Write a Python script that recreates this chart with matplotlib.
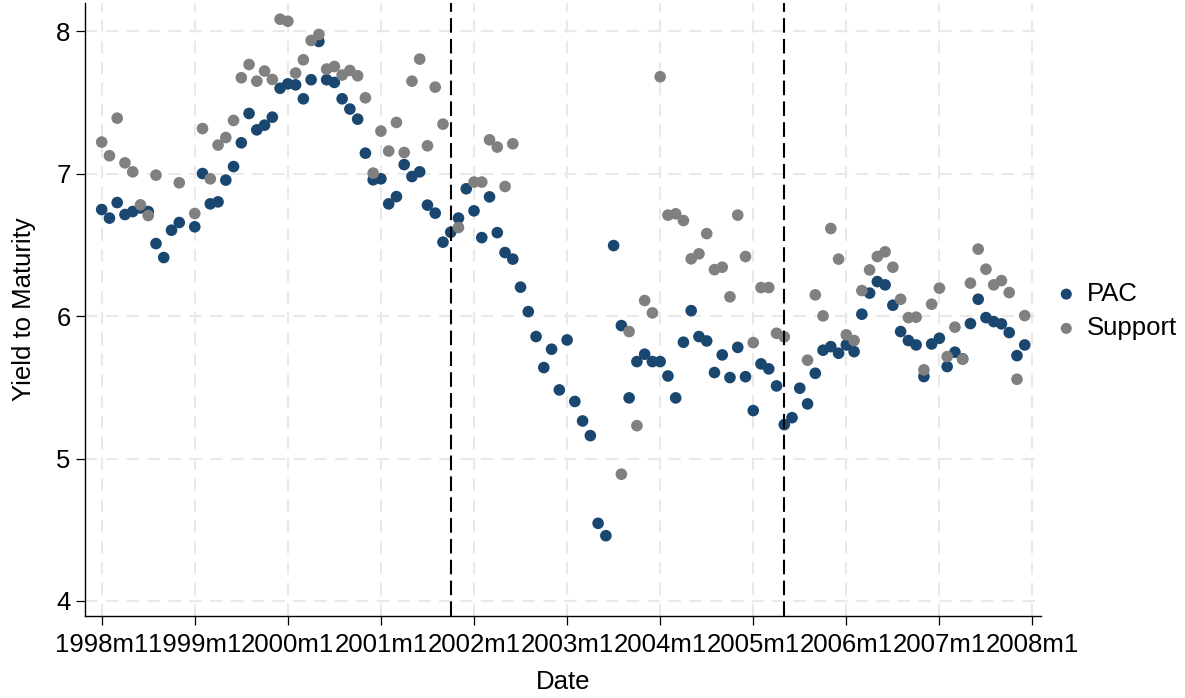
import numpy as np
import matplotlib
matplotlib.use("Agg")
import matplotlib.pyplot as plt

plt.rcParams["font.family"] = ["Liberation Sans", "DejaVu Sans"]

nan = np.nan

# monthly observations, 1998m1 .. 2007m12
start_year = 1998
n_months = 120

pac = [
    6.749, 6.689, 6.798, 6.714, 6.735, 6.760, 6.735, 6.510, 6.412, 6.604, 6.658, nan,
    6.628, 7.002, 6.789, 6.803, 6.956, 7.051, 7.218, 7.424, 7.309, 7.342, 7.398, 7.601,
    7.632, 7.625, 7.527, 7.661, 7.930, 7.661, 7.642, 7.527, 7.455, 7.384, 7.145, 6.958,
    6.965, 6.789, 6.840, 7.065, 6.981, 7.014, 6.780, 6.724, 6.520, 6.590, 6.689, 6.895,
    6.740, 6.552, 6.838, 6.587, 6.447, 6.401, 6.204, 6.032, 5.857, 5.639, 5.768, 5.482,
    5.833, 5.401, 5.264, 5.161, 4.545, 4.458, 6.496, 5.934, 5.426, 5.681, 5.733, 5.681,
    5.681, 5.580, 5.426, 5.817, 6.039, 5.857, 5.826, 5.604, 5.728, 5.569, 5.781, 5.575,
    5.337, 5.665, 5.630, 5.510, 5.238, 5.287, 5.494, 5.384, 5.599, 5.761, 5.786, 5.740,
    5.798, 5.751, 6.014, 6.162, 6.243, 6.220, 6.077, 5.892, 5.829, 5.798, 5.576, 5.805,
    5.845, 5.646, 5.747, 5.700, 5.948, 6.119, 5.990, 5.962, 5.946, 5.885, 5.723, 5.798,
]

support = [
    7.223, 7.127, 7.391, 7.077, 7.014, 6.782, 6.707, 6.991, nan, nan, 6.937, nan,
    6.721, 7.318, 6.965, 7.202, 7.255, 7.375, 7.675, 7.768, 7.651, 7.722, 7.663, 8.086,
    8.072, 7.708, 7.801, 7.937, 7.979, 7.736, 7.754, 7.694, 7.726, 7.689, 7.534, 7.005,
    7.300, 7.160, 7.361, 7.150, 7.651, 7.806, 7.197, 7.609, 7.349, nan, 6.623, nan,
    6.942, 6.942, 7.239, 7.188, 6.911, 7.211, nan, nan, nan, nan, nan, nan,
    nan, nan, nan, nan, nan, nan, nan, 4.890, 5.892, 5.231, 6.110, 6.023,
    7.682, 6.710, 6.719, 6.672, 6.403, 6.438, 6.580, 6.327, 6.344, 6.136, 6.710, 6.419,
    5.814, 6.201, 6.201, 5.880, 5.855, nan, nan, 5.691, 6.150, 6.002, 6.616, 6.401,
    5.869, 5.829, 6.180, 6.325, 6.419, 6.452, 6.344, 6.119, 5.990, 5.993, 5.623, 6.084,
    6.197, 5.716, 5.923, 5.698, 6.232, 6.471, 6.330, 6.220, 6.250, 6.166, 5.557, 6.004,
]

# event months marked with dashed lines (2001m10, 2005m5)
event_months = [45, 88]

tick_months = list(range(0, n_months + 1, 12))
tick_labels = [f"{start_year + m // 12}m1" for m in tick_months]
y_ticks = [4, 5, 6, 7, 8]

navy = "#1a476f"
grey = "#808080"
fs = 18.5

months = np.arange(n_months)

fig = plt.figure(figsize=(11.85, 6.98), dpi=100)
ax = fig.add_axes([0.072, 0.1175, 0.8065, 0.8782])

for m in tick_months:
    ax.axvline(m, color="#e9e9e9", lw=1.5, dashes=(6, 4), zorder=0)
for v in y_ticks:
    ax.axhline(v, color="#e9e9e9", lw=1.5, dashes=(6, 4), zorder=0)

ax.scatter(months, pac, s=70, color=navy, edgecolors="none", label="PAC", zorder=3)
ax.scatter(months, support, s=70, color=grey, edgecolors="none", label="Support", zorder=4)

for m in event_months:
    ax.axvline(m, color="black", lw=1.5, dashes=(7, 3), zorder=5)

ax.set_xlim(-2.11, 121.1)
ax.set_ylim(3.894, 8.2)
ax.set_xticks(tick_months)
ax.set_xticklabels(tick_labels)
ax.set_yticks(y_ticks)

ax.spines["top"].set_visible(False)
ax.spines["right"].set_visible(False)
for side in ("left", "bottom"):
    ax.spines[side].set_linewidth(1.0)
ax.tick_params(axis="both", length=6.5, width=0.9, labelsize=fs)
ax.tick_params(axis="x", pad=6)
ax.tick_params(axis="y", pad=4)

ax.set_xlabel("Date", fontsize=fs, labelpad=9)
ax.set_ylabel("Yield to Maturity", fontsize=fs, labelpad=15)

fig.legend(
    loc="center left",
    bbox_to_anchor=(1056 / 1185, 1 - 311 / 698),
    bbox_transform=fig.transFigure,
    frameon=False,
    fontsize=fs,
    markerscale=0.95,
    handlelength=0.8,
    handletextpad=0.4,
    labelspacing=0.4,
    borderpad=0,
    borderaxespad=0,
)

fig.savefig("out.png", dpi=100)
